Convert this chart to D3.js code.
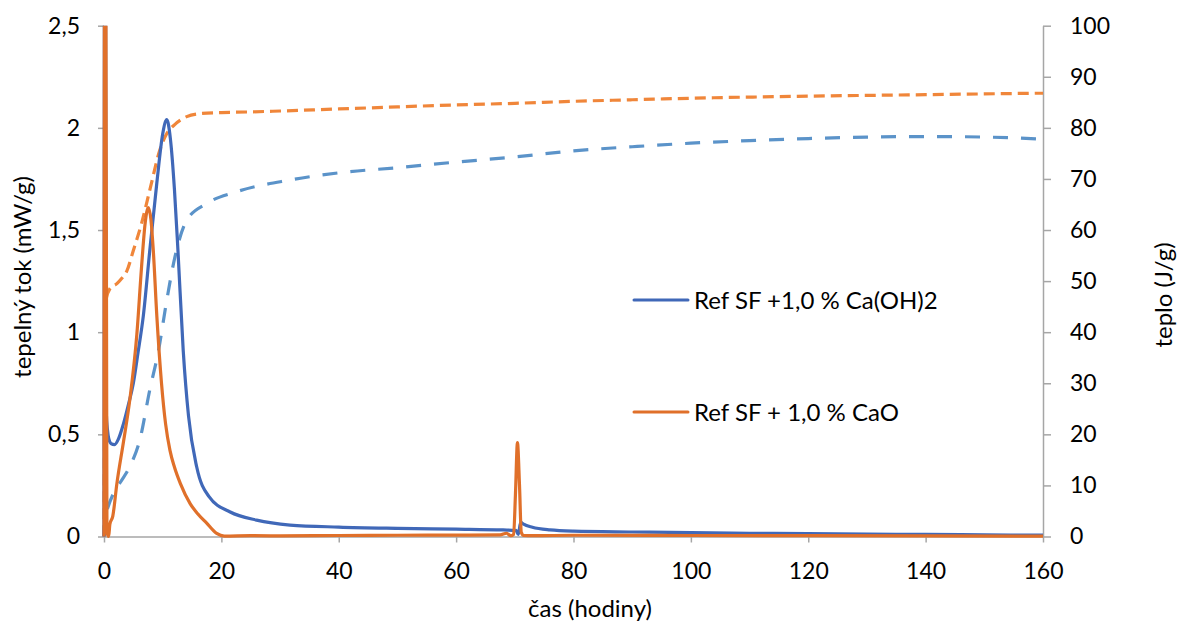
<!DOCTYPE html>
<html>
<head>
<meta charset="utf-8">
<script src="https://cdn.jsdelivr.net/npm/d3@7"></script>
<style>
  body { margin: 0; background: #fff; }
  svg text { font-family: Lato, "Open Sans", sans-serif; fill: #000; }
</style>
</head>
<body>
<svg id="chart" width="1181" height="624"></svg>
<script>
// heat flow, Ref SF + 1,0 % Ca(OH)2 (mW/g)
const caohTime = [0, 0.1, 0.25, 0.4, 0.6, 0.8, 1.2, 1.8, 2.5, 3.3, 4.2, 5.0, 5.8, 6.7, 7.8, 9.0, 10.0, 10.7, 11.3, 12.0, 12.6, 13.5, 14.4, 15.8, 17.9, 21.5, 26, 31.7, 40, 50, 60, 68, 70.2, 70.6, 71.0, 71.5, 73, 76, 80, 90, 100, 110, 120, 130, 140, 150, 160];
const caohFlow = [0, 3.0, 3.0, 0.6, 0.52, 0.48, 0.455, 0.45, 0.48, 0.55, 0.65, 0.75, 0.9, 1.08, 1.40, 1.73, 1.97, 2.04, 1.95, 1.70, 1.40, 0.91, 0.59, 0.34, 0.195, 0.12, 0.08, 0.056, 0.046, 0.04, 0.036, 0.032, 0.03, 0.01, 0.07, 0.06, 0.045, 0.032, 0.026, 0.022, 0.019, 0.016, 0.014, 0.012, 0.01, 0.008, 0.007];

// heat flow, Ref SF + 1,0 % CaO (mW/g)
const caoTime = [0, 0.1, 0.3, 0.5, 0.8, 1.0, 1.5, 2.2, 3.3, 4.4, 5.6, 6.4, 7.0, 7.55, 8.0, 8.4, 9.0, 9.8, 10.5, 11.25, 12, 13, 14.7, 16, 17.5, 19.2, 20.5, 25, 30, 40, 50, 60, 67.5, 68.6, 69.3, 69.8, 70.1, 70.45, 70.8, 71.1, 71.5, 73, 80, 100, 120, 140, 160];
const caoFlow = [0, 3.0, 3.0, 0.02, 0.0, 0.06, 0.1, 0.26, 0.46, 0.67, 0.99, 1.32, 1.53, 1.61, 1.55, 1.40, 1.08, 0.75, 0.55, 0.42, 0.34, 0.26, 0.16, 0.11, 0.065, 0.015, 0.002, 0.004, 0.003, 0.005, 0.006, 0.007, 0.008, 0.016, 0.004, 0.01, 0.2, 0.46, 0.25, 0.02, 0.005, 0.004, 0.006, 0.005, 0.004, 0.003, 0.002];

// cumulative heat (J/g), right axis
const caohHeatTime = [0, 0.2, 0.6, 1.9, 3, 4.4, 6.1, 7.8, 9.3, 10.7, 12.1, 14.1, 17.5, 22.6, 31.7, 40, 50, 60, 70, 80, 90, 100, 110, 120, 130, 140, 150, 160];
const caohHeat = [0, 4, 5.5, 9.1, 11, 13.7, 18.9, 28.7, 36.5, 46.3, 54.8, 61.9, 65.2, 67.5, 69.8, 71.2, 72.2, 73.3, 74.3, 75.5, 76.3, 77, 77.5, 77.9, 78.2, 78.3, 78.2, 77.8];
const caoHeatTime = [0, 0.1, 0.3, 1.0, 2.2, 3.0, 3.9, 5, 6.4, 7.8, 9.5, 10.7, 12, 14.1, 16.4, 20, 24.3, 30, 40, 50, 60, 70, 80, 90, 100, 120, 140, 160];
const caoHeat = [0, 20, 46, 48.5, 49.5, 50.5, 52, 56, 61.3, 67.8, 75.6, 78.9, 80.6, 82.2, 82.8, 83.0, 83.1, 83.3, 83.7, 84.1, 84.5, 84.8, 85.2, 85.5, 85.8, 86.2, 86.5, 86.8];

const xTicks = [0, 20, 40, 60, 80, 100, 120, 140, 160];
const leftTicks = [0, 0.5, 1, 1.5, 2, 2.5];
const rightTicks = [0, 10, 20, 30, 40, 50, 60, 70, 80, 90, 100];
const legendLabels = ["Ref SF +1,0 % Ca(OH)2", "Ref SF + 1,0 % CaO"];

const zip = (ts, vs) => ts.map((t, i) => ({ t: t, v: vs[i] }));

const svg = d3.select("#chart");
const plotLeft = 104, plotRight = 1043, plotTop = 25.7, plotBottom = 536.5;
const axisColor = "#a6a6a6";
const fmt = d => String(d).replace(".", ",");

const x = d3.scaleLinear().domain([0, 160]).range([plotLeft, plotRight]);
const yL = d3.scaleLinear().domain([0, 2.5]).range([plotBottom, plotTop]);
const yR = d3.scaleLinear().domain([0, 100]).range([plotBottom, plotTop]);

svg.append("defs").append("clipPath").attr("id", "plot")
  .append("rect").attr("x", plotLeft - 5).attr("y", plotTop)
  .attr("width", plotRight - plotLeft + 10).attr("height", plotBottom - plotTop + 5);

// axes
const xAxis = svg.append("g").attr("transform", `translate(0,${plotBottom})`)
  .call(d3.axisBottom(x).tickValues(xTicks).tickSize(6).tickSizeOuter(0).tickPadding(20));
const lAxis = svg.append("g").attr("transform", `translate(${plotLeft},0)`)
  .call(d3.axisLeft(yL).tickValues(leftTicks).tickFormat(fmt).tickSize(6).tickSizeOuter(0).tickPadding(18));
const rAxis = svg.append("g").attr("transform", `translate(${plotRight},0)`)
  .call(d3.axisRight(yR).tickValues(rightTicks).tickSize(8).tickSizeOuter(0).tickPadding(19));

[xAxis, lAxis, rAxis].forEach(g => {
  g.select(".domain").attr("stroke", axisColor).attr("stroke-width", 1.5);
  g.selectAll(".tick line").attr("stroke", axisColor).attr("stroke-width", 1.5);
  g.selectAll(".tick text").attr("font-size", 23).attr("font-family", "Lato, sans-serif").attr("fill", "#000");
});

// series
const plot = svg.append("g").attr("clip-path", "url(#plot)");
const lineL = d3.line().x(d => x(d.t)).y(d => yL(d.v)).curve(d3.curveMonotoneX);
const lineR = d3.line().x(d => x(d.t)).y(d => yR(d.v)).curve(d3.curveMonotoneX);

plot.append("path").datum(zip(caoHeatTime, caoHeat))
  .attr("d", lineR).attr("fill", "none").attr("stroke", "#f0863a")
  .attr("stroke-width", 3.2).attr("stroke-dasharray", "11,6");
plot.append("path").datum(zip(caohHeatTime, caohHeat))
  .attr("d", lineR).attr("fill", "none").attr("stroke", "#5b93c9")
  .attr("stroke-width", 3.2).attr("stroke-dasharray", "15,13");
plot.append("path").datum(zip(caohTime, caohFlow))
  .attr("d", lineL).attr("fill", "none").attr("stroke", "#4068b8").attr("stroke-width", 3.2);
plot.append("path").datum(zip(caoTime, caoFlow))
  .attr("d", lineL).attr("fill", "none").attr("stroke", "#e0702a").attr("stroke-width", 3.2);

// legend
const legend = svg.append("g");
[["#4068b8", 300], ["#e0702a", 412]].forEach((c, i) => {
  legend.append("line").attr("x1", 634).attr("x2", 688).attr("y1", c[1]).attr("y2", c[1])
    .attr("stroke", c[0]).attr("stroke-width", 3).attr("stroke-linecap", "round");
  legend.append("text").attr("x", 694).attr("y", c[1] + 9).attr("font-size", 24).text(legendLabels[i]);
});

// axis titles
svg.append("text").attr("transform", "translate(31,277) rotate(-90)")
  .attr("text-anchor", "middle").attr("font-size", 24).text("tepelný tok (mW/g)");
svg.append("text").attr("transform", "translate(1172,295) rotate(-90)")
  .attr("text-anchor", "middle").attr("font-size", 24).text("teplo (J/g)");
svg.append("text").attr("x", 590).attr("y", 617)
  .attr("text-anchor", "middle").attr("font-size", 24).text("čas (hodiny)");
</script>
</body>
</html>
